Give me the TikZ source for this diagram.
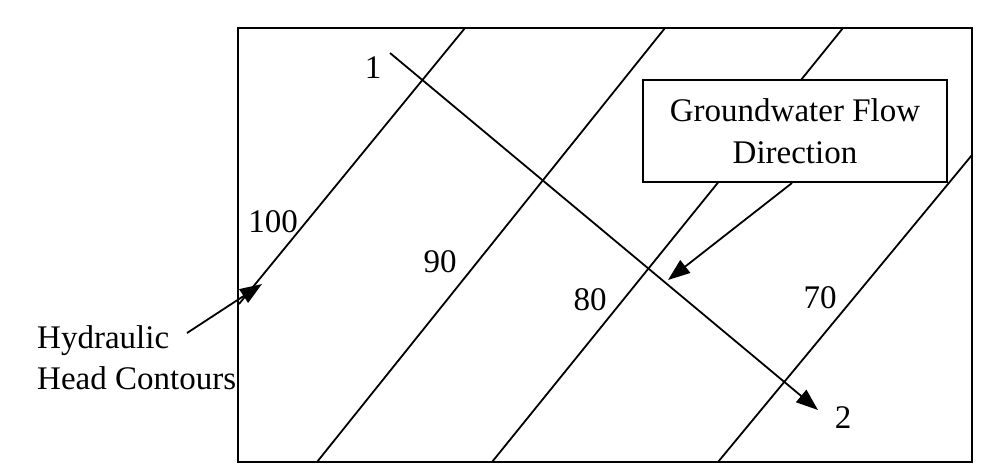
\documentclass[tikz,border=0pt]{standalone}
\usepackage{fontspec}
\setmainfont{Liberation Serif}
\usetikzlibrary{arrows.meta}
\begin{document}
\begin{tikzpicture}[x=1pt,y=-1pt,
  contour/.style={line width=1.8pt},
  flowline/.style={line width=1.8pt},
  bigtip/.style={-{Triangle[length=22pt,width=16pt]}},
  lbl/.style={inner sep=0pt,font=\fontsize{33}{41}\selectfont},
  framebox/.style={line width=2.4pt}]
\useasboundingbox (0,0) rectangle (990,464);
% contour lines
\coordinate (c100t) at (465,28);  \coordinate (c100b) at (239,304);
\coordinate (c90t)  at (665,28);  \coordinate (c90b)  at (317,462);
\coordinate (c80t)  at (843,28);  \coordinate (c80b)  at (492,462);
\coordinate (c70t)  at (972,155); \coordinate (c70b)  at (718,462);
\draw[contour] (c100t) -- (c100b);
\draw[contour] (c90t) -- (c90b);
\draw[contour] (c80t) -- (c80b);
\draw[contour] (c70t) -- (c70b);
% flow path 1 -> 2
\coordinate (fs) at (390,53);
\coordinate (fe) at (818,410);
\draw[flowline,bigtip] (fs) -- (fe);
% frame
\draw[framebox] (238,28) rectangle (972,462);
% flow direction box
\node[lbl,draw,line width=2pt,fill=white,minimum width=304pt,minimum height=102pt,align=center] (flowbox) at (795,131) {Groundwater Flow\\[1pt]Direction};
\coordinate (fatip) at (668,280);
\draw[flowline,bigtip] (flowbox.south) ++(-3,0) coordinate (fastart) (fastart) -- (fatip);
% labels
\node[lbl] (l1) at (373,68) {1};
\node[lbl] (l2) at (843,418) {2};
\node[lbl] (n100) at (273,222) {100};
\node[lbl] (n90) at (440,262) {90};
\node[lbl] (n80) at (590,300) {80};
\node[lbl] (n70) at (820,298) {70};
% hydraulic head label and arrow
\node[lbl,align=left,anchor=west] (hyd) at (37,358) {Hydraulic\\Head Contours};
\coordinate (hstart) at (187,333);
\coordinate (htip) at (262,284);
\draw[flowline,bigtip] (hstart) -- (htip);
\end{tikzpicture}
\end{document}
